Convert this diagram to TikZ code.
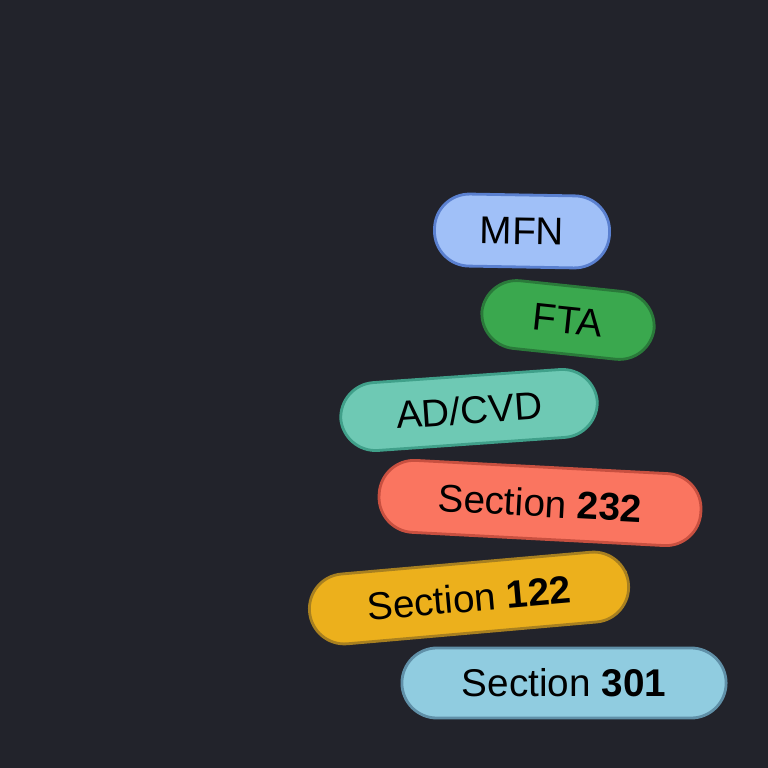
\documentclass[tikz,border=0pt]{standalone}
\usepackage{fontspec}
\setmainfont{Liberation Sans}
\begin{document}
\begin{tikzpicture}[x=0.01cm,y=-0.01cm,
pill/.style={draw,line width=0.8pt,rounded corners=0.35cm,inner sep=0pt,text=black,font=\fontsize{11}{13}\selectfont}]
\fill[fill={rgb,255:red,34;green,35;blue,43}] (0,0) rectangle (768,768);
\useasboundingbox (0,0) rectangle (768,768);
\node[pill,fill={rgb,255:red,160;green,192;blue,248},draw={rgb,255:red,90;green,128;blue,208},minimum width=1.75cm,minimum height=0.72cm,rotate=-1] (mfn) at (522,231) {MFN};
\node[pill,fill={rgb,255:red,58;green,168;blue,78},draw={rgb,255:red,42;green,122;blue,58},minimum width=1.73cm,minimum height=0.68cm,rotate=-6] (fta) at (568,320) {FTA};
\node[pill,fill={rgb,255:red,110;green,201;blue,180},draw={rgb,255:red,64;green,160;blue,138},minimum width=2.57cm,minimum height=0.68cm,rotate=4] (ad) at (469,410) {AD/CVD};
\node[pill,fill={rgb,255:red,250;green,117;blue,96},draw={rgb,255:red,200;green,80;blue,64},minimum width=3.22cm,minimum height=0.72cm,rotate=-3] (s232) at (540,503) {Section \textbf{232}};
\node[pill,fill={rgb,255:red,236;green,176;blue,28},draw={rgb,255:red,168;green,128;blue,32},minimum width=3.2cm,minimum height=0.7cm,rotate=5] (s122) at (469,598) {Section \textbf{122}};
\node[pill,fill={rgb,255:red,144;green,204;blue,224},draw={rgb,255:red,96;green,144;blue,168},minimum width=3.24cm,minimum height=0.7cm] (s301) at (564,683) {Section \textbf{301}};
\end{tikzpicture}
\end{document}
